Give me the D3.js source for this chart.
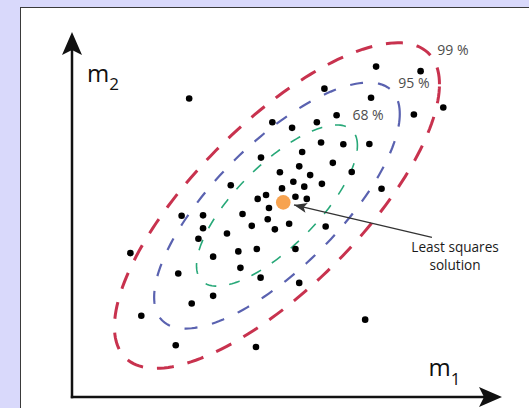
<!DOCTYPE html>
<html>
<head>
<meta charset="utf-8">
<script src="https://cdn.jsdelivr.net/npm/d3@7"></script>
<style>
  html, body { margin: 0; padding: 0; background: #d9d9fb; }
  svg { display: block; }
  text { font-family: "Open Sans", sans-serif; }
</style>
</head>
<body>
<div id="chart"></div>
<script>
// sampled models (m1, m2)
const m1Values = [7.24, 8.30, 2.79, 6.01, 7.12, 8.84, 8.14, 6.30, 4.77, 5.24, 5.83, 5.93, 6.46, 7.08, 5.48,
                  4.50, 6.21, 5.41, 4.95, 5.67, 6.66, 5.27, 5.95, 3.78, 5.00, 5.53, 7.37, 4.62, 4.42, 5.32,
                  5.59, 4.69, 2.61, 3.12, 4.06, 4.66, 3.12, 4.28, 4.83, 5.17, 6.04, 3.01, 3.69, 1.39, 3.96,
                  4.40, 5.32, 3.36, 2.53, 4.01, 4.49, 5.41, 3.36, 2.85, 1.65, 6.98, 2.47, 4.38];
const m2Values = [9.44, 9.31, 8.53, 8.81, 8.55, 8.27, 8.07, 8.05, 7.85, 7.69, 7.85, 7.27, 7.22, 7.23, 7.00,
                  6.84, 6.69, 6.59, 6.42, 6.34, 6.43, 6.15, 6.09, 6.05, 5.96, 6.01, 5.95, 5.77, 5.66, 5.72,
                  5.66, 5.40, 5.18, 5.19, 5.23, 5.08, 4.82, 4.89, 4.79, 4.95, 4.87, 4.52, 4.67, 4.11, 4.16,
                  4.23, 4.23, 4.01, 3.53, 3.69, 3.41, 3.26, 2.89, 2.67, 2.32, 2.21, 1.48, 1.43];

// least squares solution
const lsSolution = [5.03, 5.56];

// error ellipse: centre, std devs, correlation
const ellipseCentre = [4.88, 5.47];
const sigma = [1.277, 1.535];
const rho = 0.745;

// confidence levels, radius (in sigmas)
const levelNames = ['68 %', '95 %', '99 %'];
const levelRadius = [1.50, 2.29, 3.03];
const levelLabelAt = [[7.05, 7.91], [8.14, 8.83], [9.07, 9.77]];

const calloutLines = ['Least squares', 'solution'];
const calloutAt = [9.12, 4.13];
const calloutFrom = [8.57, 4.56];

const width = 529, height = 408;

const colour = d3.scaleOrdinal().domain(levelNames).range(['#27a878', '#5a62b0', '#c8324e']);
const strokeW = d3.scaleOrdinal().domain(levelNames).range([1.6, 2.2, 3]);
const dashes = d3.scaleOrdinal().domain(levelNames).range(['11,13', '13,15', '17,14']);

const svg = d3.select('#chart').append('svg')
  .attr('width', width)
  .attr('height', height);

const defs = svg.append('defs');

function arrowMarker(id, len, half, notch, refX, fill) {
  defs.append('marker')
    .attr('id', id)
    .attr('markerUnits', 'userSpaceOnUse')
    .attr('viewBox', `0 ${-half - 1} ${len + 1} ${2 * half + 2}`)
    .attr('markerWidth', len + 1)
    .attr('markerHeight', 2 * half + 2)
    .attr('refX', refX)
    .attr('refY', 0)
    .attr('orient', 'auto')
    .append('path')
      .attr('d', `M0,${-half}L${len},0L0,${half}L${notch},0Z`)
      .attr('fill', fill);
}
arrowMarker('arrowX', 23, 10, 5, 13, '#111');
arrowMarker('arrowY', 23, 10, 5, 8, '#111');
arrowMarker('arrowC', 13, 5, 3, 13, '#333');

// panel
svg.append('rect')
  .attr('x', 20.5).attr('y', 7.5)
  .attr('width', 600).attr('height', 500)
  .attr('fill', '#fff')
  .attr('stroke', '#3a3a3a')
  .attr('stroke-width', 1);

const x = d3.scaleLinear().domain([0, 10]).range([72, 492]);
const y = d3.scaleLinear().domain([0, 10]).range([397, 47]);

// ellipses
const L = [[sigma[0], 0], [rho * sigma[1], sigma[1] * Math.sqrt(1 - rho * rho)]];
function ellipsePoints(k) {
  return d3.range(0, 360, 2).map(deg => {
    const t = deg * Math.PI / 180, c = Math.cos(t), s = Math.sin(t);
    return [ellipseCentre[0] + k * L[0][0] * c,
            ellipseCentre[1] + k * (L[1][0] * c + L[1][1] * s)];
  });
}
const line = d3.line()
  .x(d => x(d[0]))
  .y(d => y(d[1]))
  .curve(d3.curveLinearClosed);

svg.append('g').selectAll('path')
  .data(levelNames)
  .join('path')
    .attr('d', (d, i) => line(ellipsePoints(levelRadius[i])))
    .attr('fill', 'none')
    .attr('stroke', d => colour(d))
    .attr('stroke-width', d => strokeW(d))
    .attr('stroke-dasharray', d => dashes(d));

svg.append('g').selectAll('text')
  .data(levelNames)
  .join('text')
    .attr('x', (d, i) => x(levelLabelAt[i][0]))
    .attr('y', (d, i) => y(levelLabelAt[i][1]))
    .attr('text-anchor', 'middle')
    .attr('font-size', 14)
    .attr('fill', '#4d4d4d')
    .text(d => d);

// points
svg.append('g').selectAll('circle')
  .data(d3.zip(m1Values, m2Values))
  .join('circle')
    .attr('cx', d => x(d[0]))
    .attr('cy', d => y(d[1]))
    .attr('r', 3.3)
    .attr('fill', '#000');

// least squares point
svg.append('circle')
  .attr('cx', x(lsSolution[0]))
  .attr('cy', y(lsSolution[1]))
  .attr('r', 7.3)
  .attr('fill', '#f7a350');

// callout
const sx = x(calloutFrom[0]), sy = y(calloutFrom[1]);
const cx = x(lsSolution[0]), cy = y(lsSolution[1]);
const dist = Math.hypot(sx - cx, sy - cy);
const gap = 11;
svg.append('line')
  .attr('x1', sx).attr('y1', sy)
  .attr('x2', cx + (sx - cx) / dist * gap)
  .attr('y2', cy + (sy - cy) / dist * gap)
  .attr('stroke', '#333')
  .attr('stroke-width', 1.3)
  .attr('marker-end', 'url(#arrowC)');

svg.append('text')
  .attr('x', x(calloutAt[0]))
  .attr('y', y(calloutAt[1]))
  .attr('text-anchor', 'middle')
  .attr('font-size', 13.6)
  .attr('fill', '#1a1a1a')
  .selectAll('tspan')
  .data(calloutLines)
  .join('tspan')
    .attr('x', x(calloutAt[0]))
    .attr('dy', (d, i) => i ? 18 : 0)
    .text(d => d);

// axes
const xAxis = svg.append('g')
  .attr('transform', `translate(0,${y(0)})`)
  .call(d3.axisBottom(x).tickValues([]).tickSizeOuter(0));
xAxis.select('.domain')
  .attr('d', `M${x(0) - 1.2},0H${x.range()[1]}`)
  .attr('stroke', '#111')
  .attr('stroke-width', 2.5)
  .attr('marker-end', 'url(#arrowX)');

const yAxis = svg.append('g')
  .attr('transform', `translate(${x(0)},0)`)
  .call(d3.axisLeft(y).tickValues([]).tickSizeOuter(0));
yAxis.select('.domain')
  .attr('d', `M0,${y(0) + 1.2}V${y.range()[1]}`)
  .attr('stroke', '#111')
  .attr('stroke-width', 2.5)
  .attr('marker-end', 'url(#arrowY)');

// axis names
function axisName(px, py, sub) {
  const t = svg.append('text')
    .attr('x', px).attr('y', py)
    .attr('font-size', 24)
    .attr('fill', '#111');
  t.append('tspan').text('m');
  t.append('tspan').attr('font-size', 17).attr('dy', 8.5).text(sub);
}
axisName(x.range()[1] - 63.5, y(0) - 21, '1');
axisName(x(0) + 15, y.range()[1] + 34.7, '2');
</script>
</body>
</html>
